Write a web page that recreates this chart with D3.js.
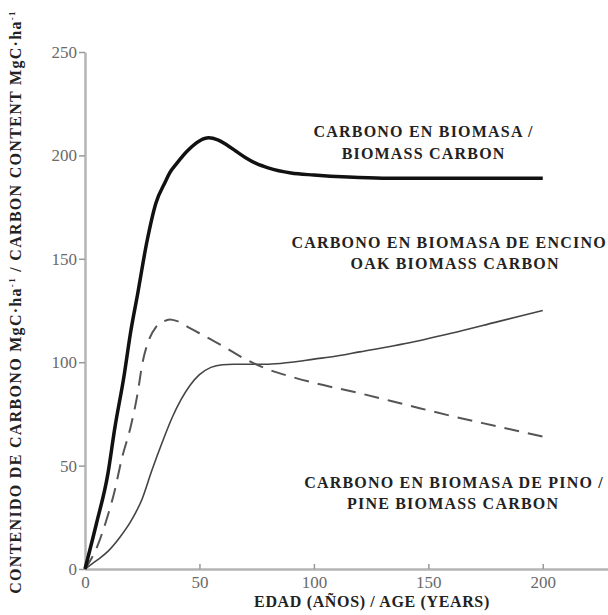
<!DOCTYPE html>
<html>
<head>
<meta charset="utf-8">
<script src="https://cdn.jsdelivr.net/npm/d3@7"></script>
<style>
  html, body { margin: 0; padding: 0; background: #fff; }
  svg { display: block; }
</style>
</head>
<body>
<svg id="chart" width="608" height="615"></svg>
<script>
// ---- data ----
const totalAges  = [0, 5, 10, 13, 17, 20, 23, 27, 31, 35, 37, 40, 45, 50, 54, 58, 62, 66, 70, 75, 80, 90, 100, 115, 130, 150, 175, 200];
const totalVals  = [0, 22, 46, 68, 93, 115, 133, 158, 177, 187, 191.5, 196, 202.5, 207, 208.5, 207.5, 205, 202, 199, 196, 194, 191.5, 190.5, 189.5, 189, 189, 189, 189];

const oakAges    = [0, 5, 10, 13, 16, 20, 23, 25, 28, 31, 34, 37, 40, 45, 50, 55, 60, 70, 80, 90, 100, 120, 140, 160, 180, 200];
const oakVals    = [0, 10, 26, 38, 53, 69, 85, 99, 111, 117, 119.5, 120.7, 120, 117, 114, 111, 108, 101.5, 96.5, 93, 90, 85, 79.5, 74, 69, 64];

const pineAges   = [0, 5, 10, 15, 20, 25, 29, 34, 38, 42, 46, 50, 55, 60, 65, 70, 80, 90, 100, 110, 120, 140, 160, 180, 200];
const pineVals   = [0, 4, 8.5, 15, 23, 34, 47, 62, 73, 82, 89, 94, 97.5, 98.8, 99, 99, 99, 100, 101.5, 103, 105, 109, 114, 119.5, 125];

const xTicks = [0, 50, 100, 150, 200];
const yTicks = [0, 50, 100, 150, 200, 250];

const labelTotal = ["CARBONO EN BIOMASA /", "BIOMASS CARBON"];
const labelOak   = ["CARBONO EN BIOMASA DE ENCINO", "OAK BIOMASS CARBON"];
const labelPine  = ["CARBONO EN BIOMASA DE PINO /", "PINE BIOMASS CARBON"];
const xTitle = "EDAD (AÑOS) / AGE (YEARS)";

// ---- drawing ----
const svg = d3.select("#chart");
const serif = "Liberation Serif, Times New Roman, Times, DejaVu Serif, Noto Serif, serif";

const x = d3.scaleLinear().domain([0, 228.5]).range([85, 608]);
const y = d3.scaleLinear().domain([0, 250]).range([569, 52]);

const axisColor = "#b4b4b4";
const tickTextColor = "#6a6a6a";

// x axis
const gx = svg.append("g").attr("transform", `translate(0,${y(0)})`)
  .call(d3.axisBottom(x).tickValues(xTicks).tickSize(-5).tickSizeOuter(0).tickPadding(7));
gx.attr("font-family", serif);
gx.select(".domain").attr("stroke", axisColor).attr("stroke-width", 2.5);
gx.selectAll(".tick line").attr("stroke", "#999").attr("stroke-width", 1.5);
gx.selectAll(".tick text").attr("fill", tickTextColor)
  .attr("font-family", serif).attr("font-size", 17);

// y axis
const gy = svg.append("g").attr("transform", `translate(${x(0)},0)`)
  .call(d3.axisLeft(y).tickValues(yTicks).tickSize(6).tickSizeOuter(0).tickPadding(2));
gy.attr("font-family", serif);
gy.select(".domain").attr("stroke", axisColor).attr("stroke-width", 2.5);
gy.selectAll(".tick line").attr("stroke", "#999").attr("stroke-width", 1.5);
gy.selectAll(".tick text").attr("fill", tickTextColor)
  .attr("font-family", serif).attr("font-size", 17);

// lines
const line = d3.line().x(d => x(d[0])).y(d => y(d[1])).curve(d3.curveMonotoneX);
const zip = (a, b) => a.map((v, i) => [v, b[i]]);

svg.append("path").datum(zip(pineAges, pineVals))
  .attr("d", line).attr("fill", "none")
  .attr("stroke", "#444").attr("stroke-width", 1.6);

svg.append("path").datum(zip(oakAges, oakVals))
  .attr("d", line).attr("fill", "none")
  .attr("stroke", "#555").attr("stroke-width", 2)
  .attr("stroke-dasharray", "15,9");

svg.append("path").datum(zip(totalAges, totalVals))
  .attr("d", line).attr("fill", "none")
  .attr("stroke", "#111").attr("stroke-width", 3.5)
  .attr("stroke-linejoin", "round");

// labels
function label(lines, cx, y0, dy, ls) {
  const t = svg.append("text")
    .attr("text-anchor", "middle")
    .attr("fill", "#222")
    .attr("font-family", serif).attr("font-weight", "bold").attr("font-size", 16)
    .attr("letter-spacing", ls);
  lines.forEach((s, i) => {
    t.append("tspan").attr("x", cx[i] + ls / 2).attr("y", y0 + i * dy).text(s);
  });
}
label(labelTotal, [423, 423], 136.5, 22, 1.2);
label(labelOak, [448.5, 454.5], 248, 20.5, 1.2);
label(labelPine, [453.5, 452.5], 488, 20.5, 1.2);

// x title
svg.append("text")
  .attr("x", 372).attr("y", 607)
  .attr("text-anchor", "middle").attr("fill", "#222")
  .attr("font-family", serif).attr("font-weight", "bold").attr("font-size", 16)
  .attr("letter-spacing", 0.65)
  .text(xTitle);

// y title with superscripts
const yt = svg.append("text")
  .attr("transform", "translate(21,302) rotate(-90)")
  .attr("text-anchor", "middle").attr("fill", "#222")
  .attr("font-family", serif).attr("font-weight", "bold").attr("font-size", 16)
  .attr("letter-spacing", 1.3);
yt.append("tspan").text("CONTENIDO DE CARBONO MgC·ha");
yt.append("tspan").attr("dy", -6).attr("font-size", 9).text("-1");
yt.append("tspan").attr("dy", 6).text(" / CARBON CONTENT MgC·ha");
yt.append("tspan").attr("dy", -6).attr("font-size", 9).text("-1");
</script>
</body>
</html>
